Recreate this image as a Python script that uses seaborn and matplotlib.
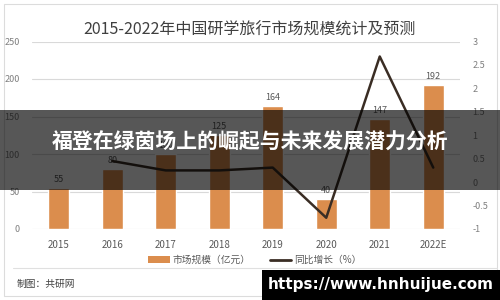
import numpy as np
import pandas as pd
import matplotlib
matplotlib.use("Agg")
import matplotlib.pyplot as plt
from matplotlib.patches import Rectangle, Patch
from matplotlib.lines import Line2D
from matplotlib.ticker import FuncFormatter
import seaborn as sns

years = ["2015", "2016", "2017", "2018", "2019", "2020", "2021", "2022E"]
market_size = [55, 80, 100, 125, 164, 40, 147, 192]
growth_years = ["2016", "2017", "2018", "2019", "2020", "2021", "2022E"]
growth = [0.45, 0.25, 0.25, 0.31, -0.76, 2.68, 0.31]

title = "2015-2022年中国研学旅行市场规模统计及预测"
legend_labels = ["市场规模（亿元）", "同比增长（%）"]
source = "制图：共研网"
overlay_text = "福登在绿茵场上的崛起与未来发展潜力分析"
url_text = "https://www.hnhuijue.com"

sns.set_theme(style="white")
plt.rcParams["font.family"] = ["Noto Sans CJK SC", "DejaVu Sans"]

BAR = "#DB8D4D"
LINE = "#3A2D24"
TXT = "#595959"

fig = plt.figure(figsize=(5, 3), dpi=100)
fig.patch.set_facecolor("white")
ax = fig.add_axes([32/500, 1-229/300, 428/500, (229-41.5)/300])

df = pd.DataFrame({"year": years, "size": market_size})
sns.barplot(data=df, x="year", y="size", color=BAR, saturation=1, width=0.4, ax=ax)
ax.set_xlim(-0.5, 7.5)
ax.set_ylim(0, 250)
ax.set_yticks(np.arange(0, 251, 50))
ax.grid(axis="y", color="#d9d9d9", linewidth=0.8)
ax.set_axisbelow(True)
for s in ax.spines.values():
    s.set_visible(False)
ax.set_xlabel("")
ax.set_ylabel("")
ax.tick_params(axis="y", labelsize=6.5, labelcolor="#7f7f7f", length=0, pad=9)
ax.tick_params(axis="x", labelsize=7, labelcolor=TXT, length=0, pad=8)
ax.bar_label(ax.containers[0], padding=3, fontsize=6.5, color=TXT)

ax2 = ax.twinx()
gdf = pd.DataFrame({"pos": [years.index(y) for y in growth_years], "g": growth})
sns.lineplot(data=gdf, x="pos", y="g", color=LINE, linewidth=1.8, ax=ax2)
ax2.set_ylim(-1, 3)
ax2.set_yticks(np.arange(-1, 3.01, 0.5))
ax2.yaxis.set_major_formatter(FuncFormatter(lambda v, p: f"{v:g}"))
ax2.tick_params(axis="y", labelsize=6.5, labelcolor="#7f7f7f", length=0, pad=9)
ax2.set_ylabel("")
ax2.grid(False)
for s in ax2.spines.values():
    s.set_visible(False)
ax2.set_xlim(-0.5, 7.5)

fig.text(0.5, 1-30/300, title, ha="center", va="center", fontsize=11.5, color="#404040")

handles = [Patch(facecolor=BAR, edgecolor="none"), Line2D([0], [0], color=LINE, lw=2)]
fig.legend(handles, legend_labels, loc="center", bbox_to_anchor=(0.51, 1-260/300), ncol=2,
           frameon=False, fontsize=7, labelcolor=TXT, handlelength=2.2, handleheight=0.6,
           columnspacing=2.0, handletextpad=0.3)

fig.text(17/500, 1-284/300, source, ha="left", va="center", fontsize=7, color="#404040")

# frame and separator
fig.add_artist(Rectangle((4/500, 4/300), 493/500, 292/300, transform=fig.transFigure,
                         fill=False, edgecolor="#dcdcdc", linewidth=0.8))
fig.add_artist(Line2D([13/500, 497/500], [1-268/300, 1-268/300], transform=fig.transFigure,
                      color="#e0e0e0", linewidth=0.8))

# overlay band
fig.add_artist(Rectangle((0, 1-190/300), 1, 80/300, transform=fig.transFigure,
                         facecolor="black", alpha=0.66, edgecolor="none", zorder=10))
fig.text(0.5, 1-142/300, overlay_text, ha="center", va="center", fontsize=15,
         color="white", fontweight="bold", zorder=11)

# url box
fig.add_artist(Rectangle((262/500, 0), 238/500, 30/300, transform=fig.transFigure,
                         facecolor="black", edgecolor="none", zorder=10))
fig.text(381/500, 1-285/300, url_text, ha="center", va="center", fontsize=11,
         color="white", fontweight="bold", zorder=11, family=["DejaVu Sans"])

fig.savefig("out.png", dpi=100)
